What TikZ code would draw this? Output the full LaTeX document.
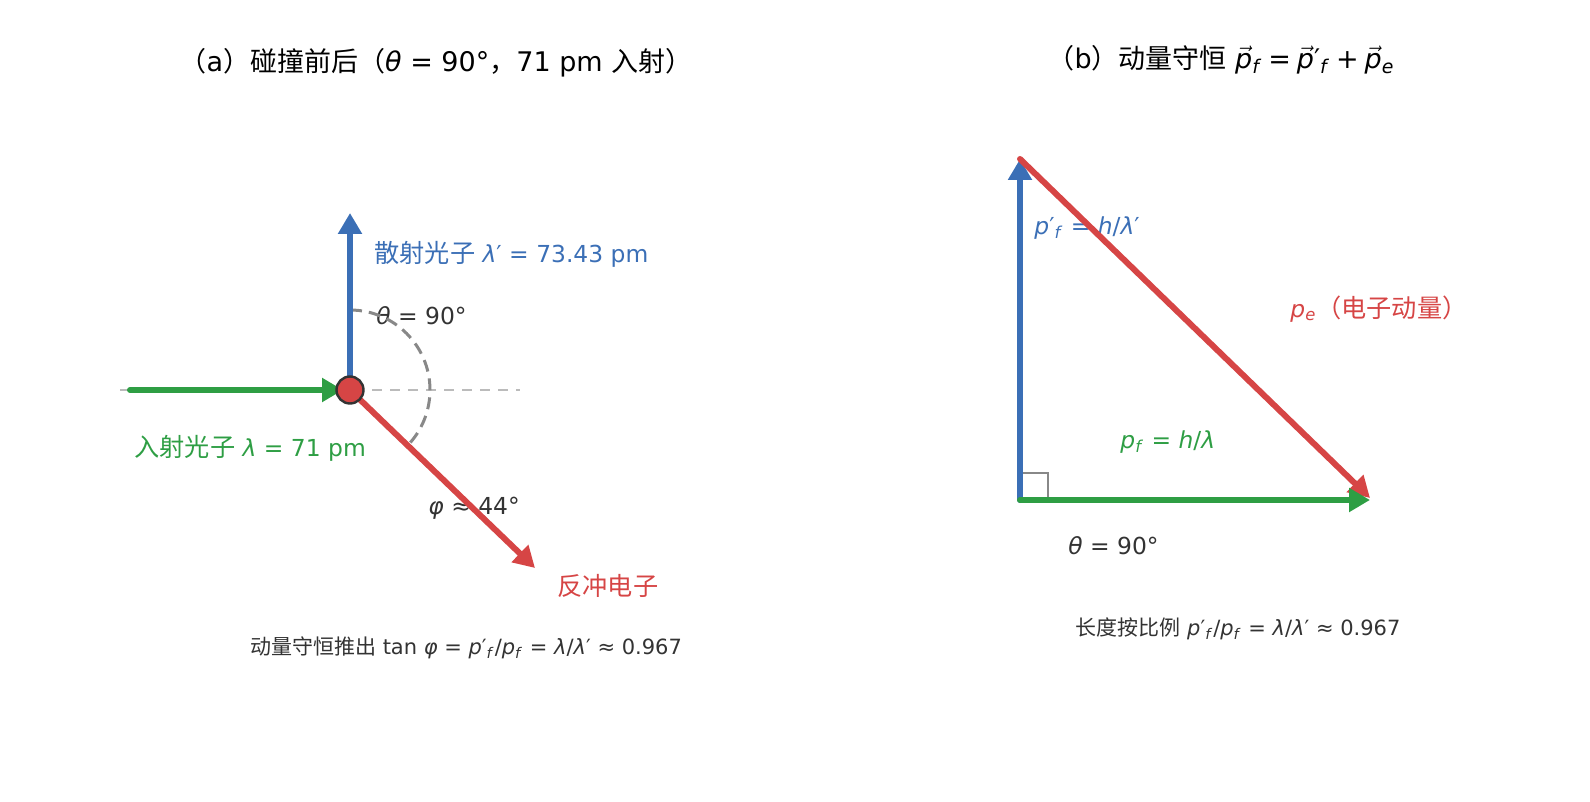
\documentclass[tikz,border=0pt]{standalone}
\usepackage{fontspec}
\setmainfont{DejaVu Sans}
\newfontfamily\cjk{Noto Sans CJK SC}
\usetikzlibrary{arrows.meta}
\definecolor{cblue}{HTML}{3B6FB6}
\definecolor{cgreen}{HTML}{2E9E44}
\definecolor{cred}{HTML}{D64545}
\definecolor{ctext}{HTML}{333333}
\definecolor{cgray}{HTML}{888888}
\definecolor{clight}{HTML}{BBBBBB}
\newcommand{\zh}[1]{{\cjk #1}}
\newcommand{\zhb}[1]{{\cjk\fontsize{12.6}{14}\selectfont #1}}
\newcommand{\vi}[1]{\textit{#1}}
\newcommand{\sbf}{\textsubscript{\textit{f}}}
\newcommand{\vp}{\ensuremath{\vec{\mbox{\itshape p}}}}
\newcommand{\bsp}{\hspace{0.22em}}
\begin{document}
\begin{tikzpicture}[x=0.5pt,y=-0.5pt,
  lbl/.style={inner sep=0pt, anchor=west, font=\fontsize{11.7}{13}\selectfont},
  ttl/.style={inner sep=0pt, font=\fontsize{13.5}{16}\selectfont, text=black},
  note/.style={inner sep=0pt, font=\fontsize{10.5}{12}\selectfont, text=ctext},
  vecarrow/.style={line width=3pt, line cap=round, -{Triangle[length=10.5pt,width=11.5pt]}},
  guide/.style={draw=clight, line width=1pt, dash pattern=on 5pt off 4pt},
  anglearc/.style={draw=cgray, line width=1.5pt, dash pattern=on 6pt off 3.5pt},
  rmark/.style={draw=cgray, line width=1.2pt},
  particle/.style={circle, fill=cred, draw=ctext, line width=1.2pt, minimum size=13.5pt, inner sep=0pt}
]
\path[use as bounding box] (0,0) rectangle (1590,802);

% ---------- Panel (a) ----------
\node[ttl] (ta) at (436,63) {\zh{（}a\zh{）碰撞前后（}\vi{θ} = 90°\zh{，}71 pm \zh{入射）}};

\node[lbl, text=cblue] (lscat) at (374,254) {\zhb{散射光子} \vi{λ}′ = 73.43 pm};
\node[lbl, text=ctext] (ltheta) at (376,316) {\vi{θ} = 90°};
\node[lbl, text=cgreen] (linc) at (134,448) {\zhb{入射光子} \vi{λ} = 71 pm};
\node[lbl, text=ctext] (lphi) at (428,508) {\vi{φ} ≈ 44°};
\node[lbl, text=cred] (lel) at (557,586) {\zhb{反冲电子}};
\node[note] (na) at (466,648) {\zh{动量守恒推出} tan \vi{φ} = \vi{p}′\sbf/\vi{p}\sbf{} = \vi{λ}/\vi{λ}′ ≈ 0.967};

\coordinate (Oc) at (350,390);
\coordinate (gl) at (120,390);
\coordinate (gr) at (520,390);
\coordinate (gs) at (130,390);
\coordinate (gt) at (343,390);
\coordinate (bt) at (350,213);
\coordinate (rt) at (535,568);

\draw[guide] (gl) -- (gr);
\draw[anglearc] (Oc) ++(-90:80) arc[start angle=-90, end angle=44, radius=80];
\draw[vecarrow, cblue] (Oc) -- (bt);
\draw[vecarrow, cred] (Oc) -- (rt);
\draw[vecarrow, cgreen] (gs) -- (gt);
\node[particle] (O) at (Oc) {};

% ---------- Panel (b) ----------
\node[ttl] (tb) at (1221,60) {\zh{（}b\zh{）动量守恒} \vp\sbf\bsp=\bsp\vp′\sbf\bsp+\bsp\vp\textsubscript{\textit{e}}};

\node[lbl, text=cblue] (lpf2) at (1034,228) {\vi{p}′\sbf{} = \vi{h}/\vi{λ}′};
\node[lbl, text=cred] (lpe) at (1290,309) {\vi{p}\textsubscript{\textit{e}}\zhb{（电子动量）}};
\node[lbl, text=cgreen] (lpf) at (1120,442) {\vi{p}\sbf{} = \vi{h}/\vi{λ}};
\node[lbl, text=ctext] (ltb) at (1068,546) {\vi{θ} = 90°};
\node[note] (nb) at (1238,629) {\zh{长度按比例} \vi{p}′\sbf/\vi{p}\sbf{} = \vi{λ}/\vi{λ}′ ≈ 0.967};

\coordinate (B0) at (1020,500);
\coordinate (Btop) at (1020,159);
\coordinate (Bright) at (1370,500);
\coordinate (Bred) at (1370,498);
\coordinate (m1) at (1020,473);
\coordinate (m2) at (1048,473);
\coordinate (m3) at (1048,500);

\draw[rmark] (m1) -- (m2) -- (m3);
\draw[vecarrow, cblue] (B0) -- (Btop);
\draw[vecarrow, cred] (Btop) -- (Bred);
\draw[vecarrow, cgreen] (B0) -- (Bright);
\end{tikzpicture}
\end{document}
